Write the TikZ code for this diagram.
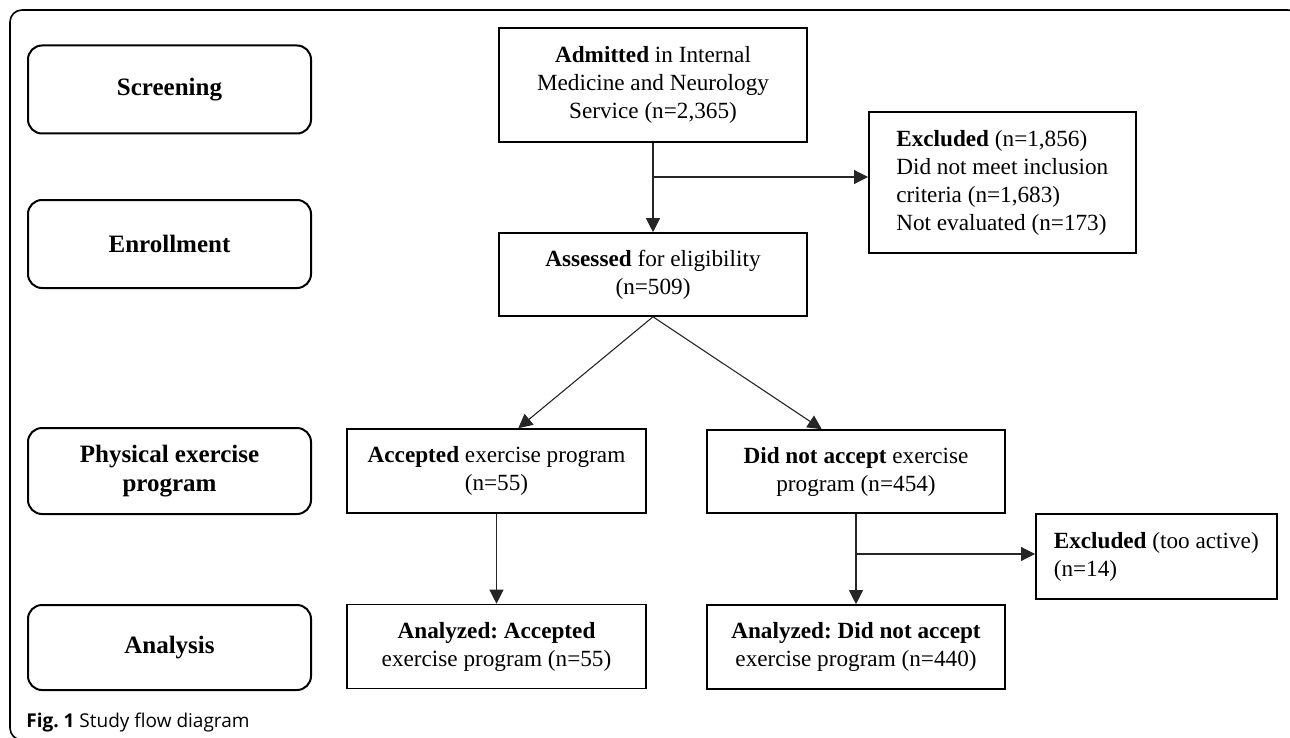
\documentclass[tikz,border=0pt]{standalone}
\usepackage{fontspec}
\setmainfont{Liberation Serif}
\newfontfamily\capfont{Open Sans}
\usepackage{tikz}
\usetikzlibrary{positioning,arrows.meta,calc}
\frenchspacing
\tikzset{
  >={Triangle[length=7pt,width=7pt]},
  stage/.style={draw, rounded corners=7pt, line width=1pt, align=center,
                minimum width=141.5pt, minimum height=#1,
                font=\bfseries\fontsize{12.5}{14.5}\selectfont},
  stage/.default=44pt,
  box/.style={draw, line width=0.8pt, align=center, inner sep=0pt,
              minimum width=#1, font=\fontsize{11.6}{14}\selectfont},
  box/.default=154pt,
  note/.style={box=#1, align=left, anchor=west, inner sep=9pt},
  flow/.style={->, line width=0.55pt, black!85},
  frame/.style={draw, line width=0.8pt, rounded corners=6pt}
}

\begin{document}
\begin{tikzpicture}[x=0.5pt, y=-0.5pt]
\useasboundingbox (0,0) rectangle (1290,738);
\draw[frame] (10,10) rectangle (1300,740);
\node[stage] (scr) at (169.5,89.5) {Screening};
\node[stage] (enr) at (169.5,244) {Enrollment};
\node[stage=43pt] (phy) at (169.5,471) {Physical exercise\\ program};
\node[stage=42.5pt] (ana) at (169.5,647.5) {Analysis};
\node[box, minimum height=57pt] (adm) at (653,85) {\textbf{Admitted} in Internal\\ Medicine and Neurology\\ Service (n=2,365)};
\node[note=133.5pt, minimum height=64.5pt] (ex1) at (868,182.5) {\textbf{Excluded} (n=1,856)\\ Did not meet inclusion\\ criteria (n=1,683)\\ Not evaluated (n=173)};
\node[box, minimum height=41.5pt] (ass) at (653,274.5) {\textbf{Assessed} for eligibility\\ (n=509)};
\node[box=149.5pt, minimum height=42pt] (acc) at (496.5,471) {\textbf{Accepted} exercise program\\ (n=55)};
\node[box=149pt, minimum height=41.5pt] (dna) at (856,471.5) {\textbf{Did not accept} exercise\\ program (n=454)};
\node[note=120pt, minimum height=36.5pt] (ex2) at (1035,556.5) {\textbf{Excluded} (too active)\\ (n=14)};
\node[box=149.5pt, minimum height=42pt] (aacc) at (496.5,646.5) {\textbf{Analyzed: Accepted}\\ exercise program (n=55)};
\node[box=149pt, minimum height=42pt] (adna) at (856,647) {\textbf{Analyzed: Did not accept}\\ exercise program (n=440)};
\node[anchor=base west, inner sep=0pt, font=\capfont\fontsize{9.5}{12}\selectfont] (cap) at (26,727) {\textbf{Fig. 1} Study flow diagram};
\coordinate (br1) at (653,177);
\coordinate (br2) at (856,554);
\draw[flow] (adm) -- (ass);
\draw[flow] (br1) -- (br1 -| ex1.west);
\draw[flow] (ass.south) -- (acc.63);
\draw[flow] (ass.south) -- (dna.129);
\draw[flow] (acc) -- (aacc);
\draw[flow] (dna) -- (adna);
\draw[flow] (br2) -- (br2 -| ex2.west);
\end{tikzpicture}
\end{document}
